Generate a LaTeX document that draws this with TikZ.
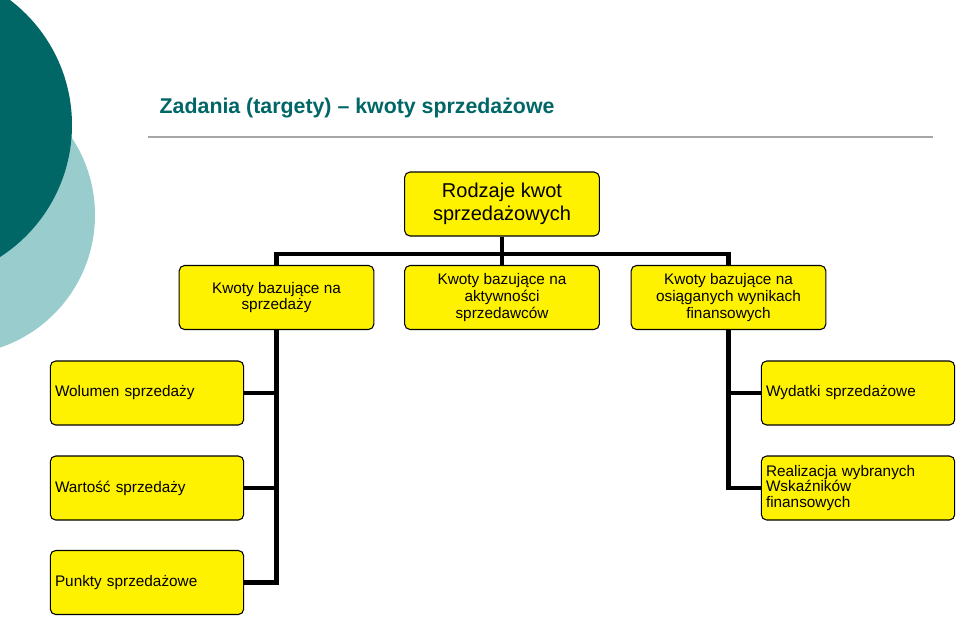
\documentclass[tikz,border=0pt]{standalone}
\usepackage{fontspec}
\setmainfont{Liberation Sans}
\begin{document}
\begin{tikzpicture}[x=0.75pt,y=-0.75pt,
 box/.style={draw=black,fill=yellow,rounded corners=4pt,line width=0.8pt,align=center,font=\fontsize{11.5}{12.5}\selectfont,inner sep=2pt},
 conn/.style={line width=3.6pt}]
\useasboundingbox (0,0) rectangle (959,619);
\clip (0,0) rectangle (959,619);
\fill[fill={rgb,255:red,153;green,204;blue,204}] (-45,215) circle (140);
\fill[fill={rgb,255:red,0;green,102;blue,102}] (-85,125) circle (157);
\node[anchor=west,text={rgb,255:red,0;green,102;blue,102},font=\fontsize{16}{18}\selectfont\bfseries] (title) at (155,108) {Zadania (targety) -- kwoty sprzedażowe};
\draw[gray!70,line width=1pt] (148,137) -- (933,137);
\node[box,minimum width=146pt,minimum height=48pt,font=\fontsize{15}{17}\selectfont] (root) at (502,204) {Rodzaje kwot\\sprzedażowych};
\foreach \n/\x/\t in {a/276.5/{Kwoty bazujące na\\sprzedaży},b/502/{Kwoty bazujące na\\aktywności\\sprzedawców},c/728.5/{Kwoty bazujące na\\osiąganych wynikach\\finansowych}}
 \node[box,minimum width=146pt,minimum height=48pt] (\n) at (\x,297.5) {\t};
\foreach \n/\y/\t in {l1/393/{Wolumen sprzedaży},l2/488/{Wartość sprzedaży},l3/582.5/{Punkty sprzedażowe}}
 \node[box,minimum width=145pt,minimum height=48pt,align=left,text width=138pt] (\n) at (147,\y) {\t};
\node[box,minimum width=145pt,minimum height=48pt,align=left,text width=138pt] (r1) at (858,393) {Wydatki sprzedażowe};
\node[box,minimum width=145pt,minimum height=48pt,align=left,text width=138pt,font=\fontsize{11.5}{11.5}\selectfont] (r2) at (858,488) {Realizacja wybranych\\Wskaźników\\finansowych};
\coordinate (j) at (502,254);
\draw[conn] (root.south) -- (j);
\draw[conn] (a.north) |- (c.north |- j) -- (c.north);
\draw[conn] (j) -- (b.north);
\draw[conn] (a.south) -- (a.south |- l3.east) -- (l3.east);
\draw[conn] (a.south |- l1.east) -- (l1.east);
\draw[conn] (a.south |- l2.east) -- (l2.east);
\draw[conn] (c.south) -- (c.south |- r2.west) -- (r2.west);
\draw[conn] (c.south |- r1.west) -- (r1.west);
\end{tikzpicture}
\end{document}
